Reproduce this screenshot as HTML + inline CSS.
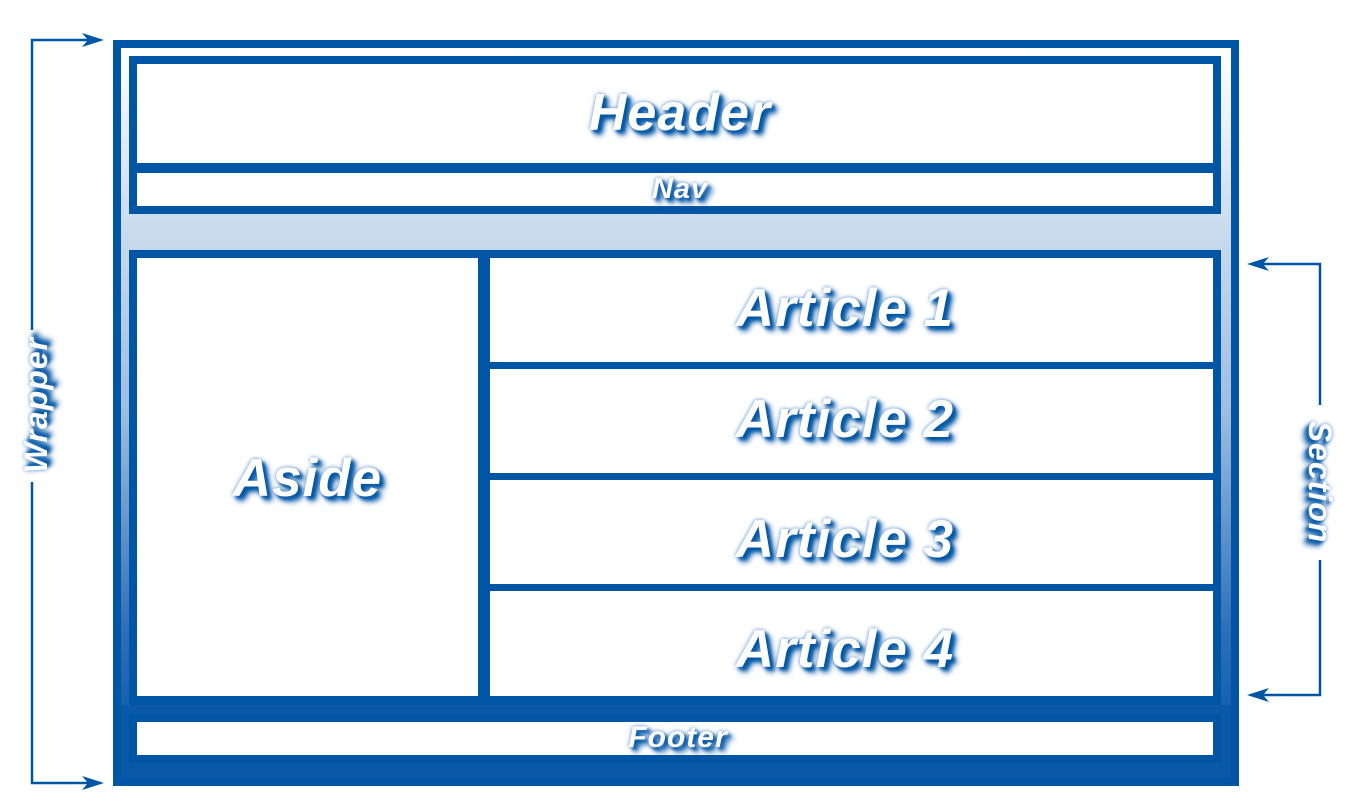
<!DOCTYPE html>
<html><head><meta charset="utf-8"><style>
body{margin:0;width:1350px;height:800px;background:#fff;position:relative;overflow:hidden;font-family:"Liberation Sans",sans-serif;}
svg{position:absolute;left:0;top:0}
.t{position:absolute;color:#fff;font-weight:bold;font-style:italic;text-align:center;white-space:nowrap;text-shadow:5px 5px 6px #0055a5,3px 3px 3px #0055a5,0 0 4px #4a86c8;line-height:1;letter-spacing:1px}
</style></head><body>
<svg width="1350" height="800" viewBox="0 0 1350 800">
<defs>
<linearGradient id="g" x1="0" y1="0" x2="0" y2="1">
<stop offset="0" stop-color="#ffffff"/>
<stop offset="0.25" stop-color="#c9dbee"/>
<stop offset="0.5" stop-color="#9dbde0"/>
<stop offset="0.8" stop-color="#2c6fb8"/>
<stop offset="1" stop-color="#0055a5"/>
</linearGradient>
</defs>
<rect x="113" y="40" width="1126" height="746" fill="#0055a5"/>
<rect x="121" y="48" width="1110" height="730" fill="url(#g)"/>
<rect x="121" y="705" width="1110" height="73" fill="#0a58a8"/>
<rect x="129" y="56" width="1092" height="158" fill="#0055a5"/>
<rect x="137" y="64" width="1076" height="99" fill="#fff"/>
<rect x="137" y="173" width="1076" height="33" fill="#fff"/>
<rect x="129" y="250" width="1092" height="455" fill="#0055a5"/>
<rect x="137" y="258" width="341" height="438" fill="#fff"/>
<rect x="490" y="258" width="723" height="104" fill="#fff"/>
<rect x="490" y="369" width="723" height="104" fill="#fff"/>
<rect x="490" y="480" width="723" height="104" fill="#fff"/>
<rect x="490" y="591" width="723" height="105" fill="#fff"/>
<rect x="129" y="714" width="1092" height="49" fill="#0055a5"/>
<rect x="137" y="722" width="1076" height="33" fill="#fff"/>
<g stroke="#0055a5" stroke-width="2.5" fill="none">
<polyline points="90,40 32,40 32,330"/>
<polyline points="32,482 32,783 90,783"/>
<polyline points="1262,264 1320,264 1320,405"/>
<polyline points="1320,560 1320,695 1262,695"/>
</g>
<g fill="#0055a5">
<path d="M104,40 L82,33 L88,40 L82,47 Z"/>
<path d="M104,783 L82,776 L88,783 L82,790 Z"/>
<path d="M1247,264 L1269,257 L1263,264 L1269,271 Z"/>
<path d="M1247,695 L1269,688 L1263,695 L1269,702 Z"/>
</g>
</svg>
<div class="t" style="left:480px;top:87px;width:400px;font-size:52px">Header</div>
<div class="t" style="left:580px;top:175px;width:200px;font-size:29px">Nav</div>
<div class="t" style="left:137px;top:452px;width:341px;font-size:53px">Aside</div>
<div class="t" style="left:645px;top:282px;width:400px;font-size:53px">Article 1</div>
<div class="t" style="left:645px;top:393px;width:400px;font-size:53px">Article 2</div>
<div class="t" style="left:645px;top:513px;width:400px;font-size:53px">Article 3</div>
<div class="t" style="left:645px;top:623px;width:400px;font-size:53px">Article 4</div>
<div class="t" style="left:578px;top:723px;width:200px;font-size:30px">Footer</div>
<div class="t" style="left:-64px;top:389px;width:200px;font-size:32px;transform:rotate(-90deg)">Wrapper</div>
<div class="t" style="left:1220px;top:466px;width:200px;font-size:32px;transform:rotate(90deg)">Section</div>
</body></html>
